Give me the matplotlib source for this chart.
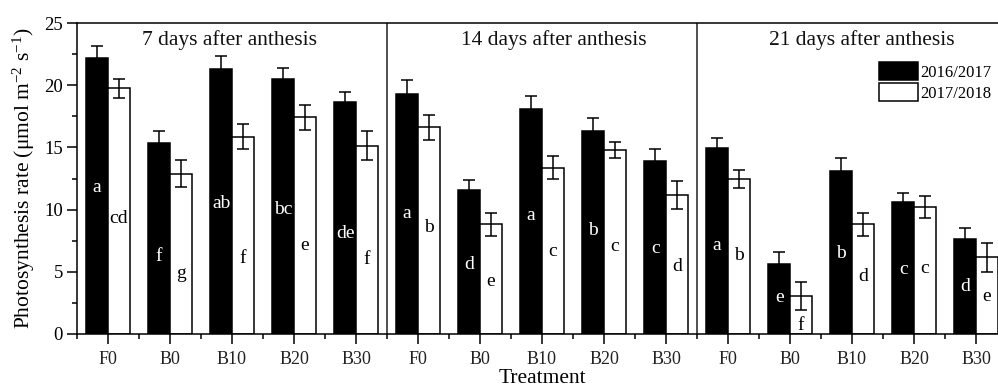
import matplotlib
matplotlib.use("Agg")
import matplotlib.pyplot as plt
from matplotlib.ticker import MultipleLocator, FixedLocator
import numpy as np

plt.rcParams['font.family'] = ['Liberation Serif', 'DejaVu Serif']
plt.rcParams['mathtext.fontset'] = 'custom'
plt.rcParams['mathtext.rm'] = 'Liberation Serif'
plt.rcParams['mathtext.it'] = 'Liberation Serif:italic'

categories = ["F0", "B0", "B10", "B20", "B30"]
panels = ["7 days after anthesis", "14 days after anthesis", "21 days after anthesis"]
series_names = ["2016/2017", "2017/2018"]

s2016 = [22.16, 15.33, 21.3, 20.5, 18.62,
         19.32, 11.58, 18.1, 16.32, 13.9,
         14.92, 5.63, 13.13, 10.61, 7.61]
e2016 = [1.0, 1.0, 1.05, 0.9, 0.8,
         1.07, 0.8, 1.0, 1.07, 0.97,
         0.83, 1.0, 1.02, 0.7, 0.9]
s2017 = [19.75, 12.9, 15.86, 17.42, 15.14,
         16.6, 8.81, 13.37, 14.79, 11.17,
         12.43, 3.08, 8.81, 10.21, 6.16]
e2017 = [0.75, 1.1, 1.0, 1.0, 1.15,
         1.0, 0.95, 0.9, 0.67, 1.15,
         0.72, 1.12, 0.9, 0.9, 1.18]
letters2016 = ['a', 'f', 'ab', 'bc', 'de', 'a', 'd', 'a', 'b', 'c', 'a', 'e', 'b', 'c', 'd']
letters2017 = ['cd', 'g', 'f', 'e', 'f', 'b', 'e', 'c', 'c', 'd', 'b', 'f', 'd', 'c', 'e']
# heights (data units) at which significance letters sit
lab_y2016 = [11.8, 6.2, 10.5, 10.0, 8.1, 9.65, 5.6, 9.55, 8.3, 6.9, 7.15, 2.9, 6.5, 5.2, 3.85]
lab_y2017 = [9.3, 4.9, 6.1, 7.15, 6.0, 8.6, 4.25, 6.6, 7.0, 5.4, 6.35, 0.7, 4.65, 5.3, 3.05]

W, H = 998, 387
fig = plt.figure(figsize=(W / 100, H / 100), dpi=100)
ax = fig.add_axes([77 / W, 1 - 334 / H, (1007 - 77) / W, (334 - 23) / H])

n = len(s2016)
x = np.arange(1, n + 1)
w = 0.35
lw = 1.1

ax.bar(x - w / 2, s2016, width=w, color='black', edgecolor='black', linewidth=lw,
       label=series_names[0], zorder=2)
ax.bar(x + w / 2, s2017, width=w, color='white', edgecolor='black', linewidth=lw,
       label=series_names[1], zorder=2)
ax.errorbar(x - w / 2, s2016, yerr=e2016, fmt='none', ecolor='black', elinewidth=lw,
            capsize=4.3, capthick=lw, zorder=3)
ax.errorbar(x + w / 2, s2017, yerr=e2017, fmt='none', ecolor='black', elinewidth=lw,
            capsize=4.3, capthick=lw, zorder=3)

for i in range(n):
    ax.text(x[i] - w / 2, lab_y2016[i], letters2016[i], color='white', fontsize=14,
            ha='center', va='center', zorder=4)
    ax.text(x[i] + w / 2, lab_y2017[i], letters2017[i], color='black', fontsize=14,
            ha='center', va='center', zorder=4)

ax.set_xlim(0.5, n + 0.5)
ax.set_ylim(0, 25)

for b in [5.5, 10.5]:
    ax.axvline(b, color='#222222', linewidth=lw, zorder=1)

title_x = [2.96, 8.19, 13.16]
for tx, t in zip(title_x, panels):
    ax.text(tx, 23.6, t, fontsize=15.5, ha='center', va='center', color='#111111')

ax.set_xticks(x)
ax.set_xticklabels(categories * 3, fontsize=13, color='#222222')
ax.xaxis.set_minor_locator(FixedLocator(np.arange(0.5, n + 1, 1.0)))
ax.yaxis.set_major_locator(MultipleLocator(5))
ax.yaxis.set_minor_locator(MultipleLocator(2.5))
ax.tick_params(axis='y', labelsize=13.5)
ax.tick_params(which='major', direction='out', length=7, width=lw, pad=3)
ax.tick_params(which='minor', direction='out', length=3.6, width=lw)
ax.tick_params(axis='x', which='major', pad=5)
for sp in ax.spines.values():
    sp.set_linewidth(lw)
ax.spines['right'].set_visible(False)

ax.set_xlabel("Treatment", fontsize=15.5, labelpad=1)
ax.set_ylabel("Photosynthesis rate (μmol m$^{-2}$ s$^{-1}$)", fontsize=15.5, labelpad=5)

leg = ax.legend(loc='upper left', bbox_to_anchor=(879 / W, 1 - 62 / H),
                bbox_transform=fig.transFigure, frameon=False, fontsize=12,
                handlelength=2.35, handleheight=1.3, labelspacing=0.15,
                handletextpad=0.15, borderpad=0, borderaxespad=0)

fig.savefig("out.png", dpi=100)
